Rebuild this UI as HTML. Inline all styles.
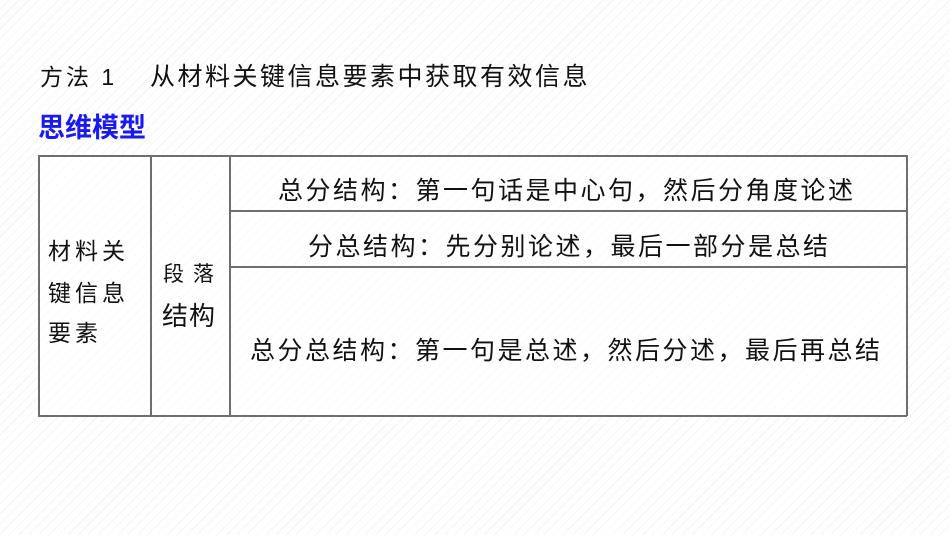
<!DOCTYPE html>
<html><head><meta charset="utf-8"><style>
body{margin:0;width:950px;height:535px;overflow:hidden;background:#fff;position:relative;font-family:"Liberation Sans","Noto Sans CJK SC",sans-serif;color:#111}
.bg{position:absolute;inset:0;background:repeating-linear-gradient(135deg,#fff 0 6px,#f4f4f4 6px 7px)}
.t{position:absolute;white-space:nowrap;font-size:25px;letter-spacing:2.5px;line-height:30px}
.l{position:absolute;background:#6e6e6e}
</style></head><body>
<div class="bg"></div>
<div class="t" style="left:40px;top:62px;font-size:23px;letter-spacing:3px">方法 1</div>
<div class="t" style="left:150px;top:62px">从材料关键信息要素中获取有效信息</div>
<div class="t" style="left:38px;top:113px;font-weight:bold;color:#1a1aee;font-size:27px;letter-spacing:0px">思维模型</div>
<div class="bg" style="left:38px;top:155px;width:869px;height:261px;background:#fff"></div>
<div class="bg" style="left:38px;top:155px;width:869px;height:261px;opacity:.5"></div>
<div class="l" style="left:38px;top:155px;width:869px;height:1.5px"></div>
<div class="l" style="left:38px;top:415px;width:869px;height:1.5px"></div>
<div class="l" style="left:38px;top:155px;width:1.5px;height:261px"></div>
<div class="l" style="left:906px;top:155px;width:1.5px;height:261px"></div>
<div class="l" style="left:150px;top:155px;width:1.5px;height:261px"></div>
<div class="l" style="left:229px;top:155px;width:1.5px;height:261px"></div>
<div class="l" style="left:229px;top:210px;width:678px;height:1.5px"></div>
<div class="l" style="left:229px;top:266px;width:678px;height:1.5px"></div>
<div class="t" style="left:278px;top:176px">总分结构：第一句话是中心句，然后分角度论述</div>
<div class="t" style="left:308px;top:232px">分总结构：先分别论述，最后一部分是总结</div>
<div class="t" style="left:250px;top:336px">总分总结构：第一句是总述，然后分述，最后再总结</div>
<div class="t" style="left:48px;top:236px;font-size:23px;letter-spacing:4px">材料关</div>
<div class="t" style="left:48px;top:278px;font-size:23px;letter-spacing:4px">键信息</div>
<div class="t" style="left:48px;top:318px;font-size:23px;letter-spacing:4px">要素</div>
<div class="t" style="left:163px;top:260px;font-size:21px;letter-spacing:9px">段落</div>
<div class="t" style="left:162px;top:301px;font-size:26px;letter-spacing:1px">结构</div>
</body></html>
